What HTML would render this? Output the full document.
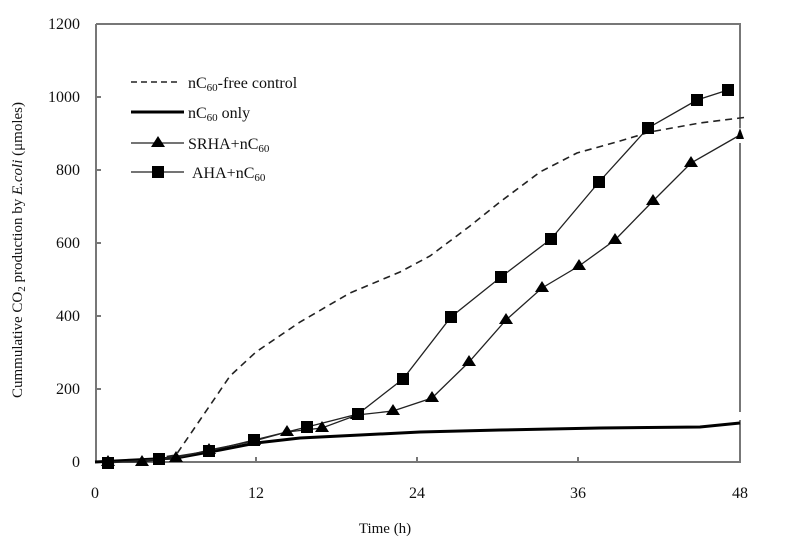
<!DOCTYPE html>
<html><head><meta charset="utf-8"><style>body{margin:0;background:#fff}svg{display:block}text{font-family:"Liberation Serif",serif;fill:#111}</style></head>
<body>
<svg width="791" height="548" viewBox="0 0 791 548">
<g stroke="#777" stroke-width="2" fill="none">
<path d="M96,24 H740 V128 M740,143 V258 M740,143 V412 M740,420 V462 H96 V24"/>
<path d="M96,389 h5 M96,316 h5 M96,243 h5 M96,170 h5 M96,97 h5 M256,462 v-5 M417,462 v-5 M578,462 v-5"/>
</g>
<g font-size="16" text-anchor="end">
<text x="80" y="467">0</text><text x="80" y="394">200</text><text x="80" y="321">400</text><text x="80" y="248">600</text><text x="80" y="175">800</text><text x="80" y="102">1000</text><text x="80" y="29">1200</text>
</g>
<g font-size="16" text-anchor="middle">
<text x="95" y="498">0</text><text x="256" y="498">12</text><text x="417" y="498">24</text><text x="578" y="498">36</text><text x="740" y="498">48</text>
<text x="385" y="533" font-size="15">Time (h)</text>
</g>
<text transform="translate(22,250) rotate(-90)" text-anchor="middle" font-size="15">Cummulative CO<tspan font-size="11" dy="3">2</tspan><tspan dy="-3"> production by </tspan><tspan font-style="italic">E.coli</tspan> (μmoles)</text>
<path d="M95,462 L140,461 L176,455 L200,420 L230,376 L256,352 L300,322 L350,293 L400,272 L430,256 L470,226 L500,202 L540,172 L577,153 L620,141 L650,132 L700,123 L748,117" fill="none" stroke="#222" stroke-width="1.6" stroke-dasharray="7,5"/>
<path d="M95,462 L176,458 L220,450 L256,443 L300,438 L360,435 L420,432 L500,430 L600,428 L700,427 L740,423" fill="none" stroke="#000" stroke-width="3"/>
<g stroke="#222" stroke-width="1.3" fill="none">
<polyline points="108,462 142,462 176,458 209,450 254,441 287,432 322,428 357,415 393,411 432,398 469,362 506,320 542,288 579,266 615,240 653,201 691,163 740,135"/>
<polyline points="108,463 159,459 209,451 254,440 307,427 358,414 403,379 451,317 501,277 551,239 599,182 648,128 697,100 728,90"/>
</g>
<g fill="#000">
<g id="tr">
<path d="M108,455 l7,11 h-14z"/><path d="M142,455 l7,11 h-14z"/><path d="M176,451 l7,11 h-14z"/><path d="M209,443 l7,11 h-14z"/><path d="M254,434 l7,11 h-14z"/><path d="M287,425 l7,11 h-14z"/><path d="M322,421 l7,11 h-14z"/><path d="M357,408 l7,11 h-14z"/><path d="M393,404 l7,11 h-14z"/><path d="M432,391 l7,11 h-14z"/><path d="M469,355 l7,11 h-14z"/><path d="M506,313 l7,11 h-14z"/><path d="M542,281 l7,11 h-14z"/><path d="M579,259 l7,11 h-14z"/><path d="M615,233 l7,11 h-14z"/><path d="M653,194 l7,11 h-14z"/><path d="M691,156 l7,11 h-14z"/><path d="M740,128 l4,11 h-8z"/>
</g>
<rect x="102" y="457" width="12" height="12"/><rect x="153" y="453" width="12" height="12"/><rect x="203" y="445" width="12" height="12"/><rect x="248" y="434" width="12" height="12"/><rect x="301" y="421" width="12" height="12"/><rect x="352" y="408" width="12" height="12"/><rect x="397" y="373" width="12" height="12"/><rect x="445" y="311" width="12" height="12"/><rect x="495" y="271" width="12" height="12"/><rect x="545" y="233" width="12" height="12"/><rect x="593" y="176" width="12" height="12"/><rect x="642" y="122" width="12" height="12"/><rect x="691" y="94" width="12" height="12"/><rect x="722" y="84" width="12" height="12"/>
</g>
<g>
<path d="M131,82 H180" stroke="#222" stroke-width="1.5" stroke-dasharray="6,4"/>
<path d="M131,112 H184" stroke="#000" stroke-width="3"/>
<path d="M131,143 H184 M131,172 H184" stroke="#222" stroke-width="1.3"/>
<path d="M158,136 l7,11 h-14z"/><rect x="152" y="166" width="12" height="12"/>
</g>
<g font-size="16">
<text x="188" y="88">nC<tspan font-size="11" dy="3">60</tspan><tspan dy="-3">-free control</tspan></text>
<text x="188" y="118">nC<tspan font-size="11" dy="3">60</tspan><tspan dy="-3"> only</tspan></text>
<text x="188" y="149">SRHA+nC<tspan font-size="11" dy="3">60</tspan></text>
<text x="192" y="178">AHA+nC<tspan font-size="11" dy="3">60</tspan></text>
</g>
</svg>
</body></html>
